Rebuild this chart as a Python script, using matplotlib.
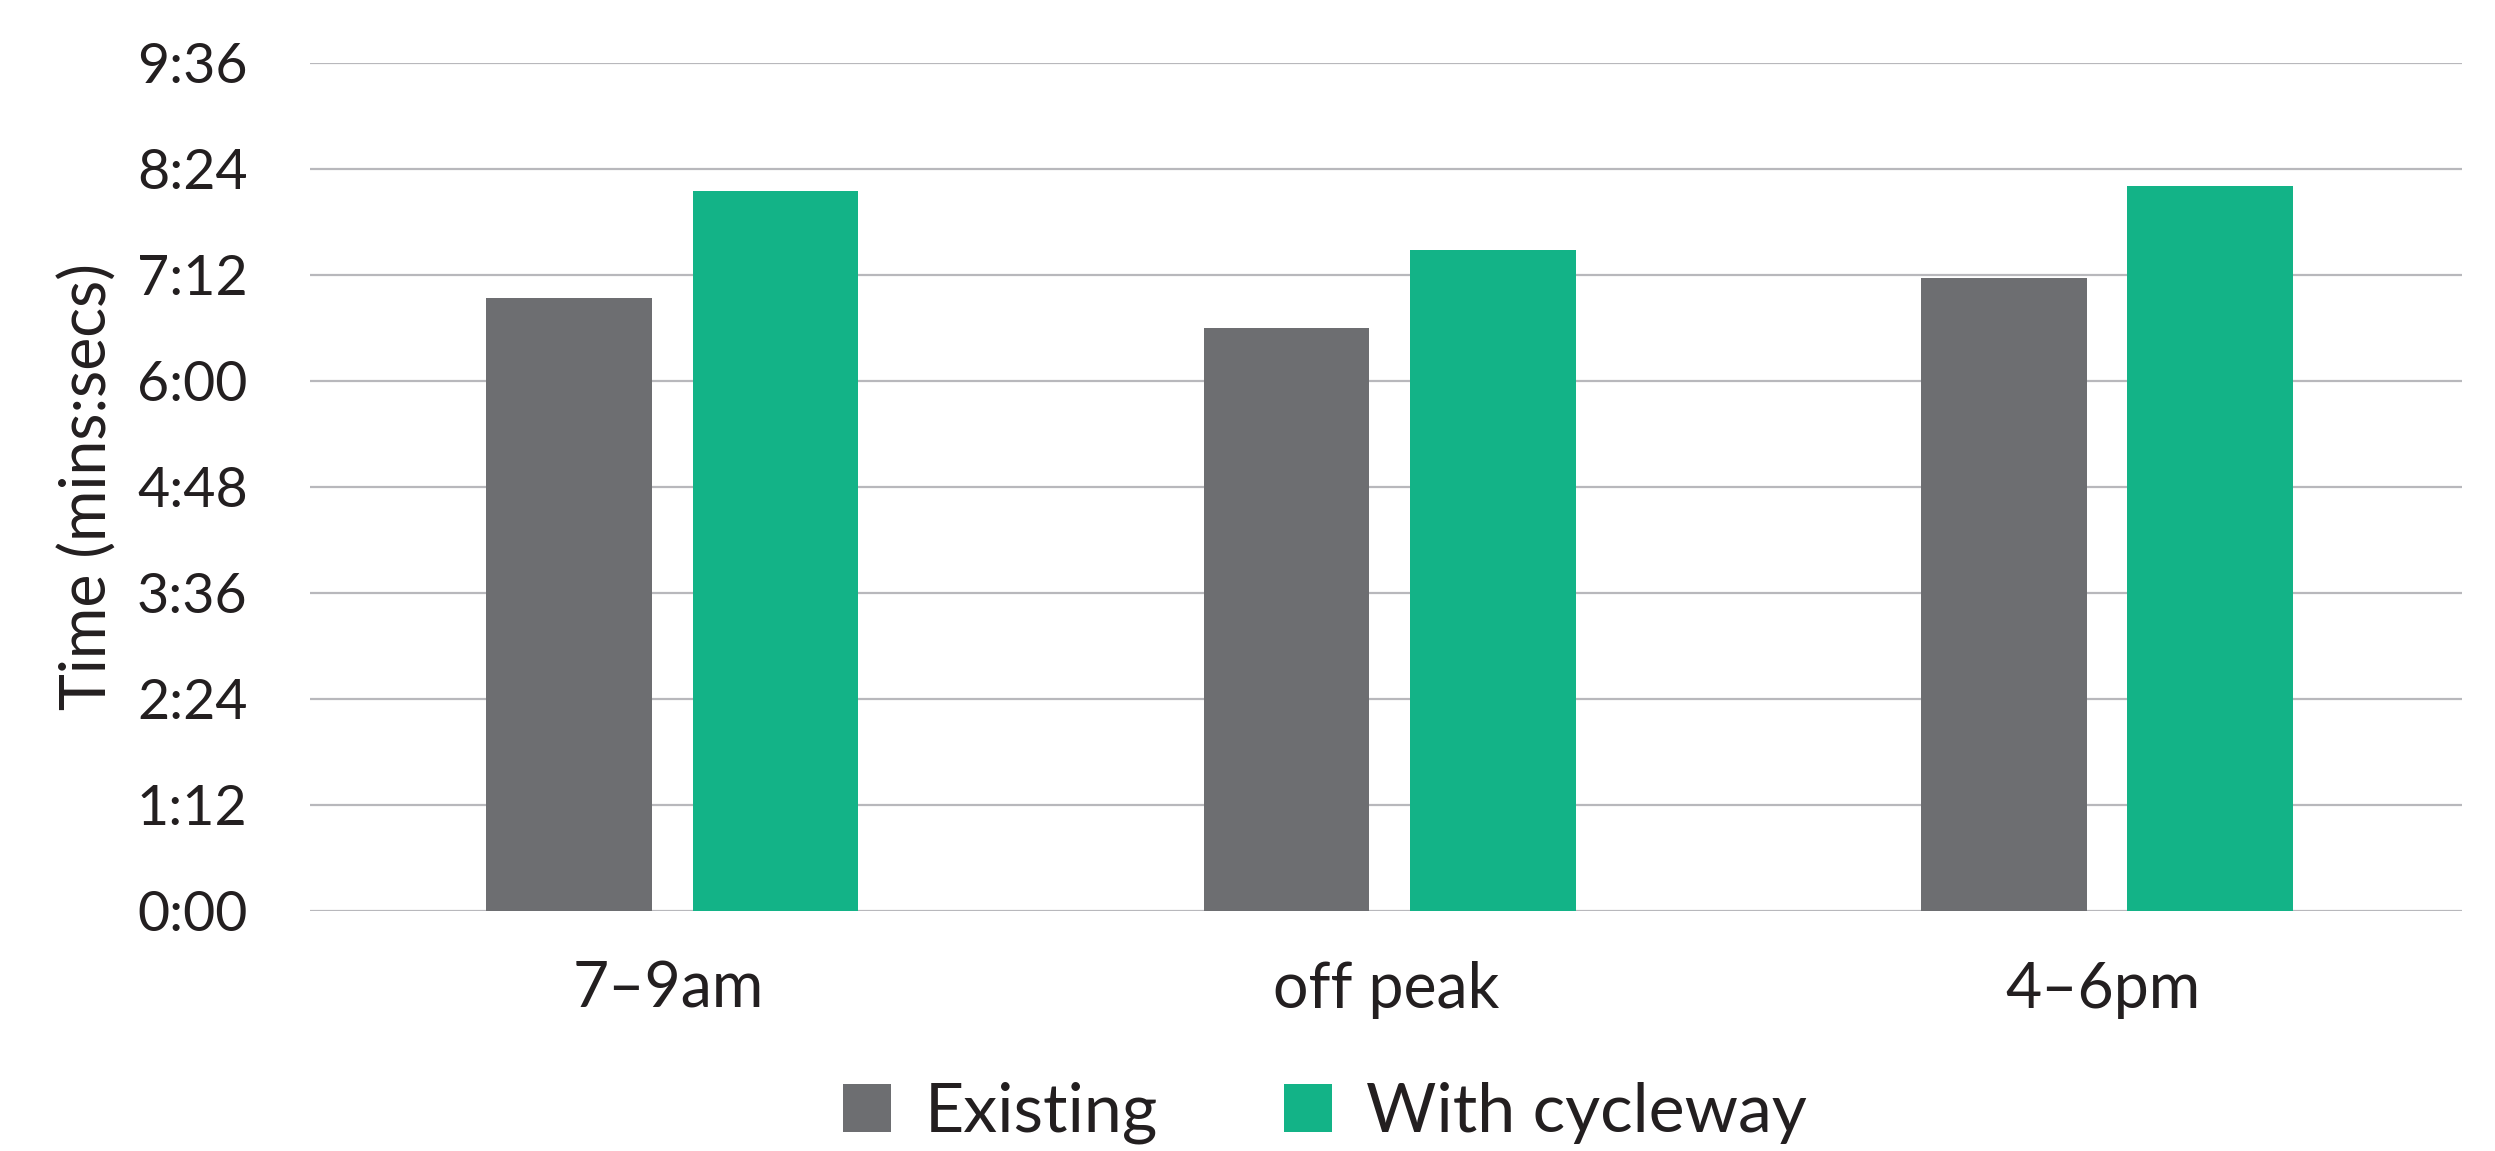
import matplotlib
matplotlib.use("Agg")
from matplotlib import pyplot as plt
import numpy as np

# data (seconds)
categories = ["7\u20139am", "off peak", "4\u20136pm"]
existing = [416, 396, 430]
cycleway = [489, 449, 492]
series_names = ["Existing", "With cycleway"]
yticks = np.arange(0, 577, 72)

grey = "#6d6e71"
green = "#13b387"
txt = "#231f20"

plt.rcParams['font.family'] = ['Lato', 'DejaVu Sans']

fig = plt.figure(figsize=(24.95, 11.51), dpi=100)
ax = fig.add_axes([0.1243, 0.2088, 0.8625, 0.7367])

x = np.arange(len(categories))
w = 0.231
off = 0.1437
ax.bar(x - off + 0.005, existing, w, color=grey, label=series_names[0], zorder=3)
ax.bar(x + off + 0.005, cycleway, w, color=green, label=series_names[1], zorder=3)

ax.set_xlim(-0.5, len(categories) - 0.5)
ax.set_ylim(0, 576)
ax.set_yticks(yticks)
ax.set_yticklabels([f"{t // 60}:{t % 60:02d}" for t in yticks])
ax.set_xticks(x)
ax.set_xticklabels(categories)

ax.grid(axis='y', color='#b8b8bc', linewidth=1.6, zorder=0)
for s in ax.spines.values():
    s.set_visible(False)
ax.tick_params(axis='y', length=0, labelsize=40, colors=txt, pad=45)
ax.tick_params(axis='x', length=0, labelsize=45, colors=txt, pad=36)
ax.set_ylabel("Time (mins:secs)", fontsize=45, color=txt, labelpad=14)

fig.legend(loc='center', bbox_to_anchor=(0.531, 0.033), ncol=2, frameon=False,
           fontsize=49, handlelength=0.7, handleheight=0.7, handletextpad=0.5,
           columnspacing=1.85, labelcolor=txt)

fig.savefig("out.png", dpi=100)
